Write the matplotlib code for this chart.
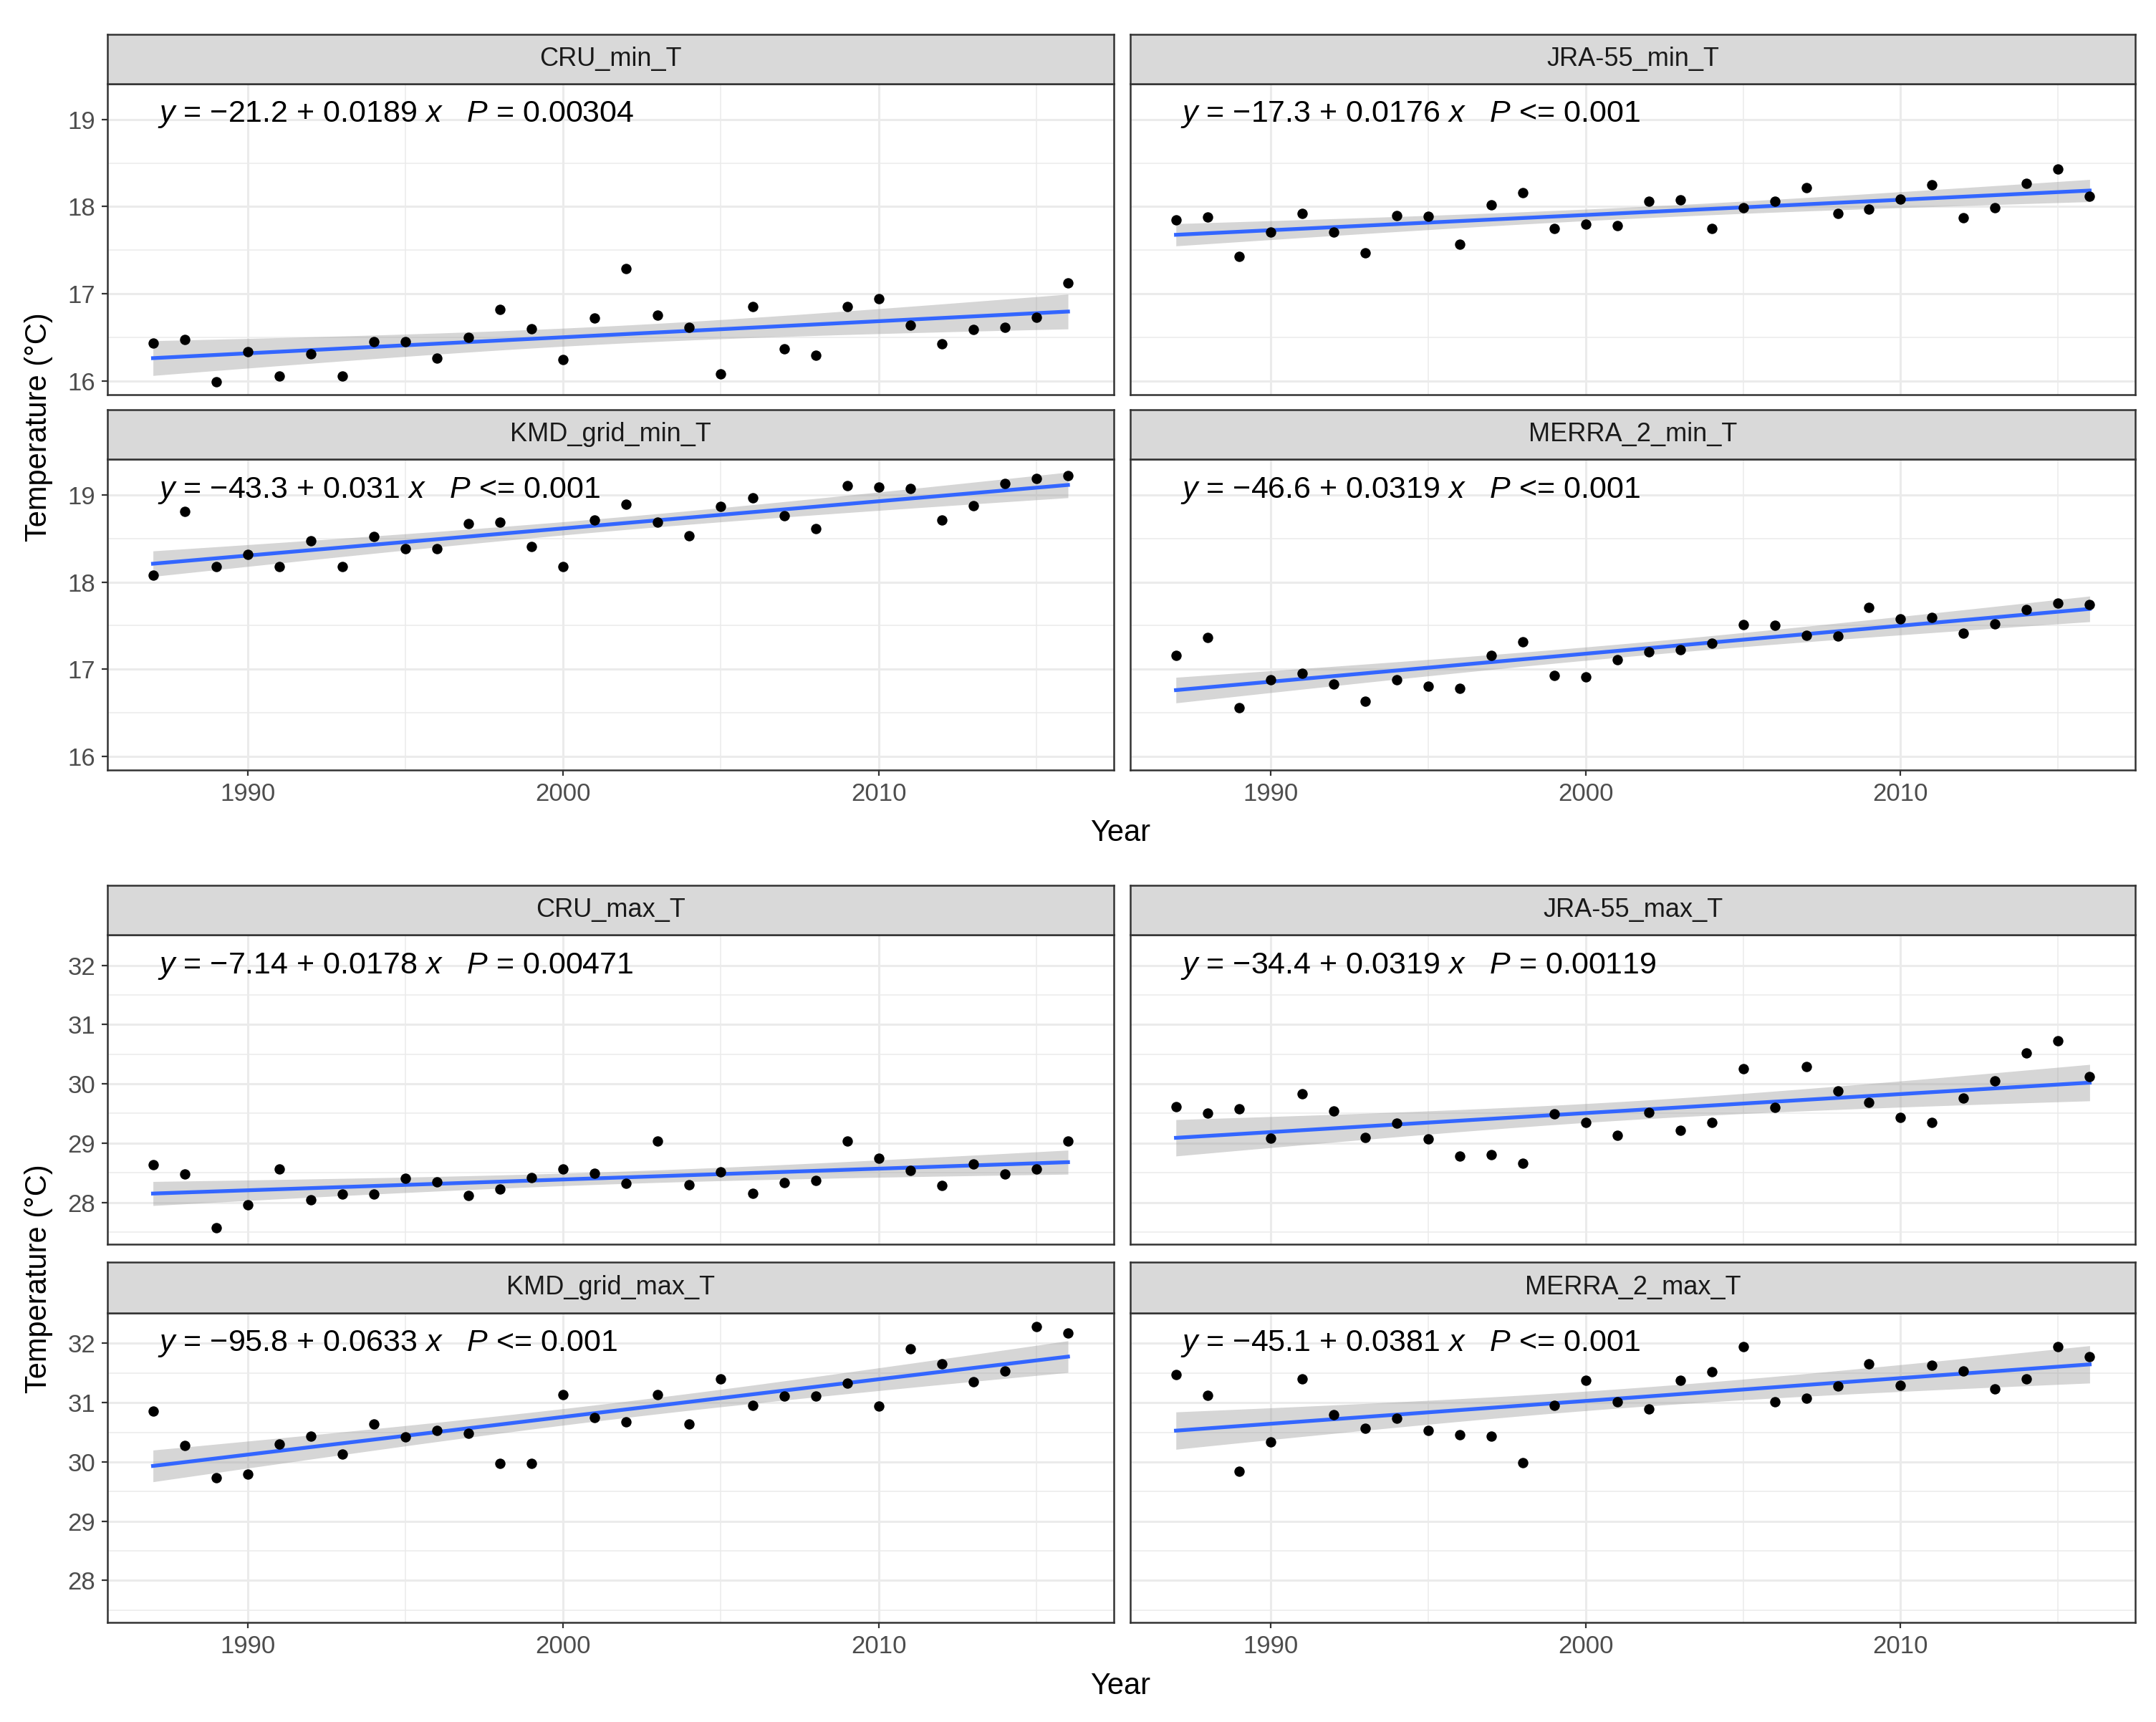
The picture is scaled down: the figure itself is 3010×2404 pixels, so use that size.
import numpy as np
import matplotlib.pyplot as plt
from matplotlib.ticker import MultipleLocator

plt.rcParams['font.family'] = ['Liberation Sans', 'DejaVu Sans']
plt.rcParams['mathtext.fontset'] = 'custom'
plt.rcParams['mathtext.rm'] = 'Liberation Sans'
plt.rcParams['mathtext.it'] = 'Liberation Sans:italic'

# data
years = list(range(1987, 2017))

cru_min = [16.43, 16.47, 15.99, 16.33, 16.05, 16.31, 16.05, 16.45, 16.45, 16.26,
           16.50, 16.82, 16.60, 16.24, 16.72, 17.29, 16.75, 16.61, 16.08, 16.85,
           16.37, 16.29, 16.85, 16.94, 16.64, 16.42, 16.59, 16.61, 16.73, 17.12]
jra_min = [17.85, 17.88, 17.43, 17.71, 17.92, 17.71, 17.47, 17.90, 17.89, 17.57,
           18.02, 18.16, 17.75, 17.80, 17.78, 18.06, 18.08, 17.75, 17.99, 18.06,
           18.22, 17.92, 17.97, 18.09, 18.25, 17.87, 17.99, 18.27, 18.43, 18.12]
kmd_min = [18.08, 18.81, 18.18, 18.32, 18.18, 18.47, 18.18, 18.52, 18.38, 18.38,
           18.67, 18.69, 18.41, 18.18, 18.71, 18.89, 18.69, 18.53, 18.87, 18.97,
           18.76, 18.61, 19.11, 19.09, 19.07, 18.71, 18.88, 19.13, 19.19, 19.22]
merra_min = [17.16, 17.36, 16.56, 16.88, 16.95, 16.83, 16.63, 16.88, 16.80, 16.78,
             17.16, 17.31, 16.93, 16.91, 17.11, 17.20, 17.22, 17.30, 17.51, 17.50,
             17.39, 17.38, 17.71, 17.58, 17.59, 17.41, 17.52, 17.68, 17.76, 17.74]

cru_max = [28.63, 28.48, 27.57, 27.96, 28.56, 28.04, 28.14, 28.14, 28.40, 28.35,
           28.11, 28.22, 28.42, 28.56, 28.49, 28.32, 29.03, 28.30, 28.52, 28.15,
           28.33, 28.37, 29.03, 28.74, 28.54, 28.28, 28.65, 28.48, 28.56, 29.03]
jra_max = [29.61, 29.50, 29.58, 29.08, 29.83, 29.54, 29.10, 29.34, 29.07, 28.78,
           28.81, 28.66, 29.49, 29.35, 29.13, 29.52, 29.21, 29.35, 30.26, 29.60,
           30.29, 29.88, 29.69, 29.43, 29.35, 29.76, 30.05, 30.52, 30.73, 30.12]
kmd_max = [30.86, 30.28, 29.73, 29.80, 30.30, 30.44, 30.13, 30.64, 30.42, 30.53,
           30.48, 29.98, 29.98, 31.14, 30.75, 30.68, 31.13, 30.64, 31.40, 30.96,
           31.11, 31.11, 31.33, 30.94, 31.91, 31.65, 31.35, 31.53, 32.28, 32.17]
merra_max = [31.48, 31.12, 29.84, 30.34, 31.40, 30.80, 30.57, 30.74, 30.53, 30.46,
             30.43, 29.99, 30.95, 31.38, 31.02, 30.89, 31.38, 31.52, 31.94, 31.01,
             31.08, 31.28, 31.66, 31.29, 31.63, 31.53, 31.23, 31.40, 31.95, 31.78]

panel_names = ['CRU_min_T', 'JRA-55_min_T', 'KMD_grid_min_T', 'MERRA_2_min_T',
               'CRU_max_T', 'JRA-55_max_T', 'KMD_grid_max_T', 'MERRA_2_max_T']
panel_data = [cru_min, jra_min, kmd_min, merra_min,
              cru_max, jra_max, kmd_max, merra_max]
eq_labels = [
    r'$y$ = −21.2 + 0.0189 $x$   $P$ = 0.00304',
    r'$y$ = −17.3 + 0.0176 $x$   $P$ <= 0.001',
    r'$y$ = −43.3 + 0.031 $x$   $P$ <= 0.001',
    r'$y$ = −46.6 + 0.0319 $x$   $P$ <= 0.001',
    r'$y$ = −7.14 + 0.0178 $x$   $P$ = 0.00471',
    r'$y$ = −34.4 + 0.0319 $x$   $P$ = 0.00119',
    r'$y$ = −95.8 + 0.0633 $x$   $P$ <= 0.001',
    r'$y$ = −45.1 + 0.0381 $x$   $P$ <= 0.001',
]
group_ylims = [(15.84, 19.41), (27.29, 32.51)]
group_yticks = [[16, 17, 18, 19], [28, 29, 30, 31, 32]]
x_ticks = [1990, 2000, 2010]

# layout (in reference pixel units, 1568 wide)
W, H = 1568.0, 1252.3
cols = [(78, 810), (822, 1553)]
rows = [(25, 61, 287), (298, 334, 560), (644, 680, 905), (918, 955, 1180)]

fig = plt.figure(figsize=(15.05, 12.02), dpi=200)

grey20 = '#333333'
grey30 = '#4D4D4D'
t_crit = 2.048  # 95% t, 28 df

for i, (name, vals) in enumerate(zip(panel_names, panel_data)):
    g = i // 4
    r = (i % 4) // 2
    c = i % 2
    st, bt, bb = rows[g * 2 + r]
    x0, x1 = cols[c]
    ax = fig.add_axes([x0 / W, 1 - bb / H, (x1 - x0) / W, (bb - bt) / H])
    sax = fig.add_axes([x0 / W, 1 - bt / H, (x1 - x0) / W, (bt - st) / H])

    x = np.array(years, dtype=float)
    y = np.array(vals)
    b, a = np.polyfit(x, y, 1)
    n = len(x)
    resid = y - (a + b * x)
    s = np.sqrt(np.sum(resid ** 2) / (n - 2))
    xs = np.linspace(x.min(), x.max(), 80)
    fit = a + b * xs
    se = s * np.sqrt(1 / n + (xs - x.mean()) ** 2 / np.sum((x - x.mean()) ** 2))

    ax.fill_between(xs, fit - t_crit * se, fit + t_crit * se, color='#999999',
                    alpha=0.4, lw=0, zorder=2)
    ax.plot(xs, fit, color='#3366FF', lw=1.9, zorder=3)
    ax.scatter(x, y, s=27, color='black', lw=0, zorder=4)

    ax.set_xlim(1985.55, 2017.45)
    ax.set_ylim(*group_ylims[g])
    ax.set_xticks(x_ticks)
    ax.xaxis.set_minor_locator(MultipleLocator(5))
    ax.set_yticks(group_yticks[g])
    ax.yaxis.set_minor_locator(MultipleLocator(0.5))
    ax.grid(which='major', color='#EBEBEB', lw=1.1)
    ax.grid(which='minor', color='#EBEBEB', lw=0.55)
    ax.set_axisbelow(True)
    ax.tick_params(which='minor', length=0)
    ax.tick_params(which='major', length=3, width=0.8, color=grey20,
                   labelsize=12.5, labelcolor=grey30, pad=3)
    if c == 1:
        ax.tick_params(axis='y', length=0, labelleft=False)
    if r == 0:
        ax.tick_params(axis='x', length=0, labelbottom=False)
    for sp in ax.spines.values():
        sp.set_color(grey20)
        sp.set_linewidth(0.9)

    ax.text(0.05, 0.90, eq_labels[i], transform=ax.transAxes, fontsize=15.5,
            ha='left', va='center', color='black')

    sax.set_facecolor('#D9D9D9')
    sax.set_xticks([])
    sax.set_yticks([])
    for sp in sax.spines.values():
        sp.set_color(grey20)
        sp.set_linewidth(0.9)
    sax.text(0.5, 0.5, name, transform=sax.transAxes, fontsize=13,
             ha='center', va='center', color='#1A1A1A')

# axis titles
for g in range(2):
    top = rows[g * 2][1]
    bot = rows[g * 2 + 1][2]
    fig.text(28 / W, 1 - (top + bot) / 2 / H, 'Temperature (°C)', rotation=90,
             ha='center', va='center', fontsize=15)
    fig.text(815 / W, 1 - (bot + 46) / H, 'Year', ha='center', va='center',
             fontsize=15)

fig.savefig('out.png', dpi=200, facecolor='white')
